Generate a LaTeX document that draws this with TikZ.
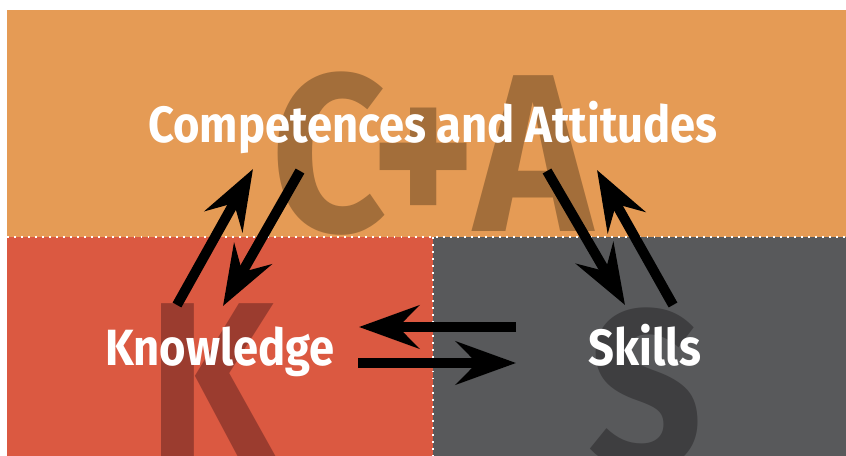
\documentclass[tikz,border=0pt]{standalone}
\usepackage{fontspec}
\usepackage{tikz}
\usetikzlibrary{arrows.meta}
\newfontfamily\labelfont{Fira Sans}[FakeStretch=0.89]
\definecolor{capband}{RGB}{229,155,85}
\definecolor{capglyph}{RGB}{163,110,58}
\definecolor{knowband}{RGB}{219,89,65}
\definecolor{knowglyph}{RGB}{155,60,47}
\definecolor{skillband}{RGB}{88,89,91}
\definecolor{skillglyph}{RGB}{62,62,64}

\begin{document}
\begin{tikzpicture}[x=0.02cm,y=-0.02cm,
		labeltext/.style={text=white,font=\labelfont\bfseries\fontsize{29}{29}\selectfont,inner sep=0pt},
		bigglyph/.style={font=\labelfont\bfseries\fontsize{128}{128}\selectfont,inner sep=0pt},
		link/.style={line width=0.2cm,-{Stealth[length=1.2cm,width=0.86cm,inset=0.42cm]}},
		seam/.style={white,line width=1.1pt,dash pattern=on 1.1pt off 2.9pt}]
				\useasboundingbox (0,0) rectangle (846,456);
				\fill[capband] (7,10) rectangle (846,237);
				\fill[knowband] (7,237) rectangle (433,456);
				\fill[skillband] (433,237) rectangle (846,456);
				
				\begin{scope}
				\clip (7,10) rectangle (846,456);
				\node[bigglyph,text=capglyph,anchor=base] (ca) at (432,232) {C+A};
				\node[bigglyph,text=knowglyph,anchor=north west] (kk) at (148,303) {K};
				\node[bigglyph,text=skillglyph,anchor=north west] (ss) at (588,307) {S};
				\end{scope}
				
				\draw[seam] (7,237) -- (846,237);
				\draw[seam] (433,237) -- (433,456);
				
				\node[labeltext,anchor=base] (cat) at (433,143) {Competences and Attitudes};
				\node[labeltext,anchor=base] (kn) at (220,365) {Knowledge};
				\node[labeltext,anchor=base] (sk) at (645,365) {Skills};
				
				\coordinate (k1) at (177,305);%Knowledge up
				\coordinate (c1) at (253,169);
				\coordinate (c2) at (300,171);%Competences down
				\coordinate (k2) at (223,306);
				\coordinate (s1) at (516,327);%Skills left
				\coordinate (k3) at (359,327);
				\coordinate (k4) at (358,363);%Knowledge right
				\coordinate (s2) at (516,363);
				\coordinate (c3) at (547,171);%Attitudes down
				\coordinate (s3) at (625,305);
				\coordinate (s4) at (673,305);%Skills up
				\coordinate (c4) at (597,170);
				
				\draw[link] (k1) -- (c1);
				\draw[link] (c2) -- (k2);
				\draw[link] (s1) -- (k3);
				\draw[link] (k4) -- (s2);
				\draw[link] (c3) -- (s3);
				\draw[link] (s4) -- (c4);
\end{tikzpicture}
\end{document}
